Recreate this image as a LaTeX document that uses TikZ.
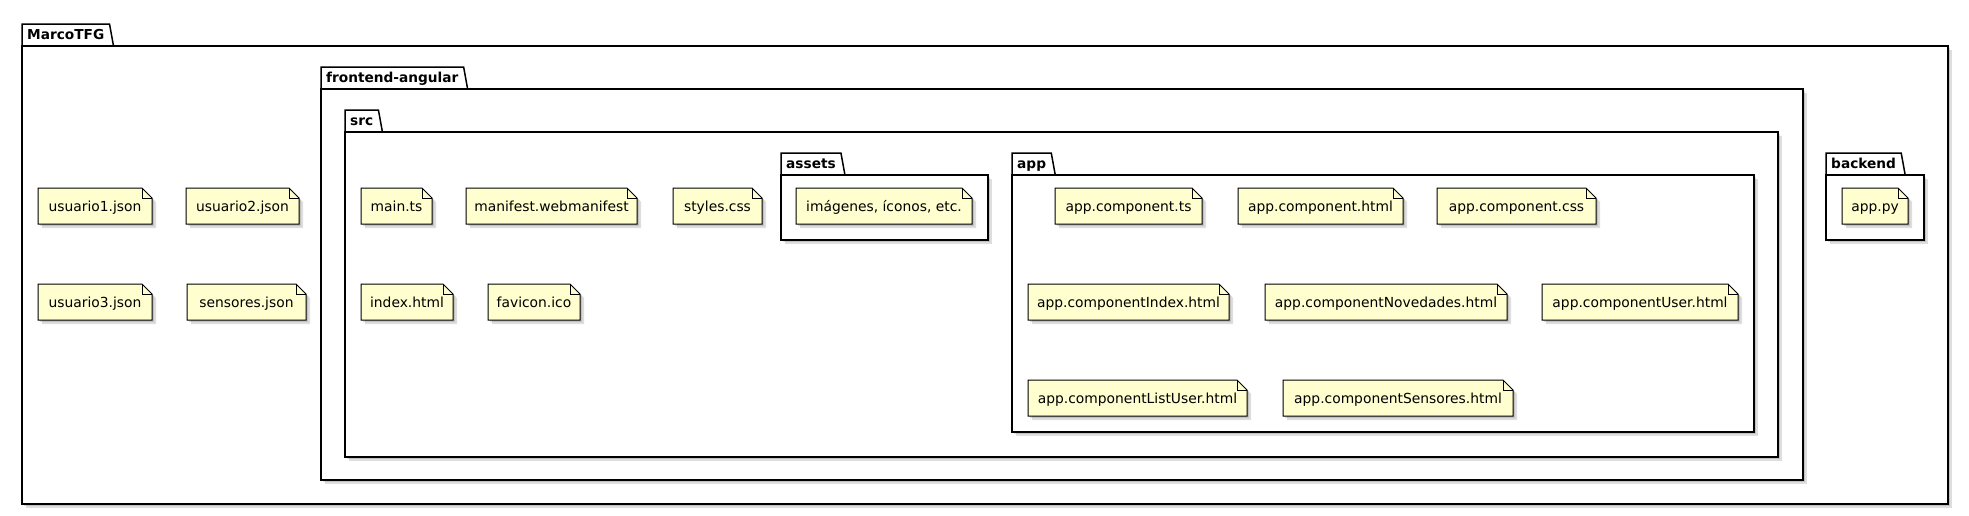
\documentclass[tikz,border=0pt]{standalone}
\usepackage{fontspec}
\setmainfont{DejaVu Sans}
\definecolor{notefill}{HTML}{FEFECE}

\begin{document}
\begin{tikzpicture}
  [x=1pt, y=-1pt,
    every node/.style={font=\fontsize{13.85}{16}\selectfont, inner sep=0pt},
    pkg/.style={draw=black, fill=white, line width=1.5pt, line join=miter},
    pkgtab/.style={draw=black, line width=1.5pt, line join=miter},
    pkglabel/.style={font=\fontsize{13.7}{16}\selectfont\bfseries, inner xsep=5pt, anchor=base west},
    notebox/.style={draw=black, fill=notefill, line width=1pt, line join=miter},
    notefold/.style={draw=black, line width=1pt},
    shadowbox/.style={fill=black, opacity=0.13, draw=none},
  ]

  \useasboundingbox (0,0) rectangle (1969,515);

  % packages
  \foreach \nm/\xl/\yt/\ym/\xr/\yb/\txt in {
    marco/22/24/46/1948/504/MarcoTFG,
    front/321/67/89/1803/480/frontend-angular,
    src/345/110/132/1778/457/src,
    assets/781/153/175/988/240/assets,
    app/1012/153/175/1754/432/app,
    back/1826/153/175/1924/240/backend}
  {
    \fill[shadowbox, shift={(2,2)}] (\xl,\ym) rectangle (\xr,\yb);
    \fill[shadowbox, shift={(4,4)}] (\xl,\ym) rectangle (\xr,\yb);
    \draw[pkg] (\xl,\ym) rectangle (\xr,\yb);
    \node[pkglabel] (\nm) at (\xl,{\ym-7}) {\txt};
    \draw[pkgtab] (\xl,\ym) -- (\xl,\yt) -- (\nm.east |- 0,\yt) -- ([xshift=4pt]\nm.east |- 0,\ym);
  }

  % notes
  \foreach \nm/\xl/\yt/\xr/\yb/\txt in {
    us1/38/188/152/224/usuario1.json,
    us2/186/188/299/224/usuario2.json,
    us3/38/284/152/320/usuario3.json,
    sensjson/187/284/306/320/sensores.json,
    maints/361/188/432/224/main.ts,
    manifest/466/188/637/224/manifest.webmanifest,
    styles/673/188/762/224/styles.css,
    index/361/284/453/320/index.html,
    favicon/488/284/580/320/favicon.ico,
    images/796/188/972/224/{imágenes, íconos, etc.},
    compts/1055/188/1202/224/app.component.ts,
    comphtml/1238/188/1403/224/app.component.html,
    compcss/1437/188/1596/224/app.component.css,
    compindex/1028/284/1229/320/app.componentIndex.html,
    compnov/1265/284/1507/320/app.componentNovedades.html,
    compuser/1542/284/1738/320/app.componentUser.html,
    complist/1028/380/1247/416/app.componentListUser.html,
    compsens/1283/380/1513/416/app.componentSensores.html,
    apppy/1842/188/1908/224/app.py}
  {
    \fill[shadowbox, shift={(2,2)}] (\xl,\yt) -- ({\xr-10},\yt) -- (\xr,{\yt+10}) -- (\xr,\yb) -- (\xl,\yb) -- cycle;
    \fill[shadowbox, shift={(4,4)}] (\xl,\yt) -- ({\xr-10},\yt) -- (\xr,{\yt+10}) -- (\xr,\yb) -- (\xl,\yb) -- cycle;
    \draw[notebox] (\xl,\yt) -- ({\xr-10},\yt) -- (\xr,{\yt+10}) -- (\xr,\yb) -- (\xl,\yb) -- cycle;
    \draw[notefold] ({\xr-10},\yt) |- (\xr,{\yt+10});
    \node[anchor=base] (\nm) at ({(\xl+\xr)/2},{\yt+23}) {\txt};
  }
\end{tikzpicture}
\end{document}
